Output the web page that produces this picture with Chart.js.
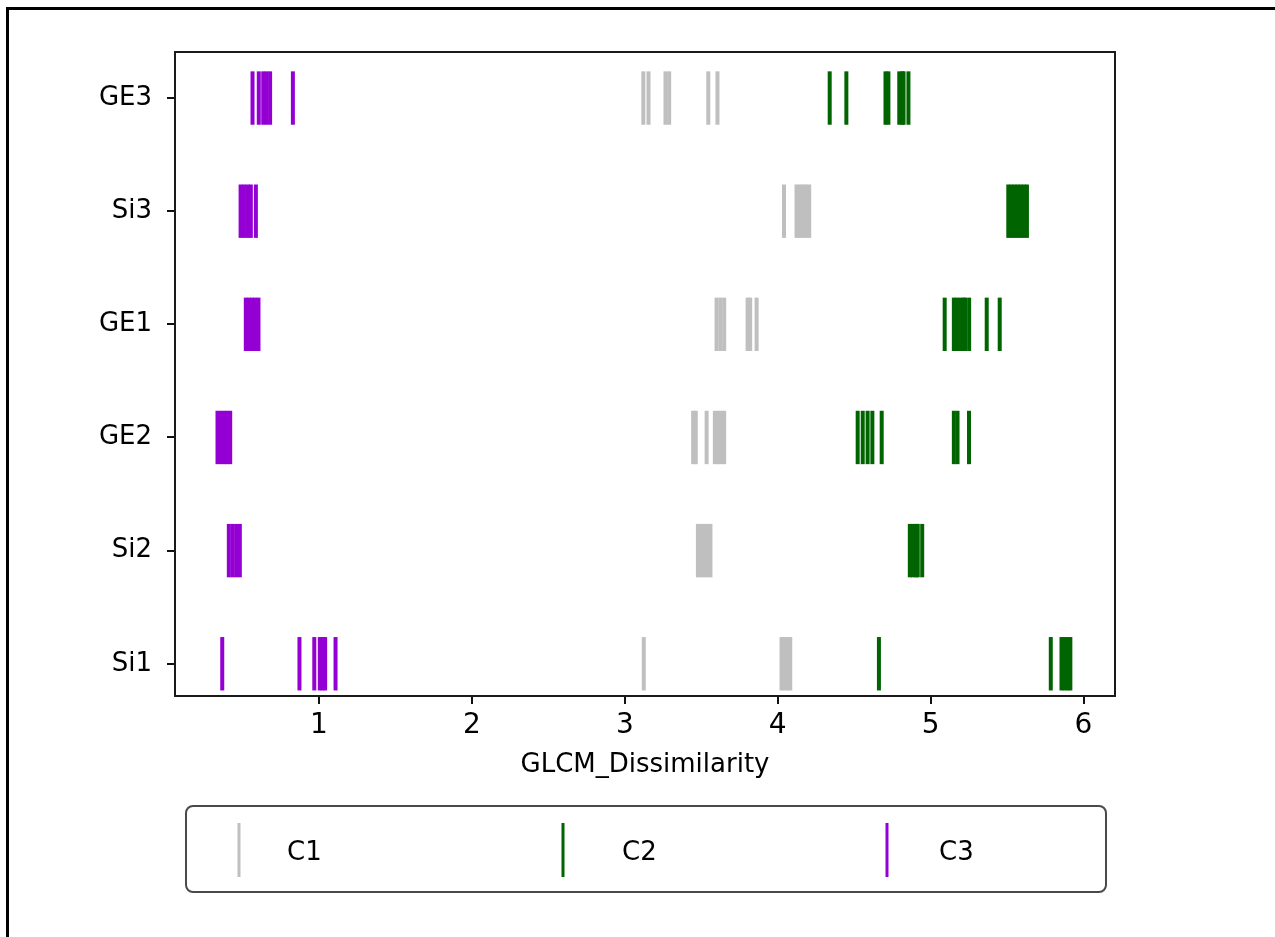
<!DOCTYPE html>
<html><head><meta charset="utf-8">
<script src="https://cdn.jsdelivr.net/npm/chart.js@4.4.1/dist/chart.umd.min.js"></script>
<style>
html,body{margin:0;padding:0;background:#fff;overflow:hidden;}
#wrap{position:relative;width:1275px;height:937px;}
#frame{position:absolute;left:6px;top:7px;width:1300px;height:1000px;border-left:3px solid #000;border-top:3px solid #000;pointer-events:none;}
canvas{position:absolute;left:0;top:0;}
</style></head><body>
<div id="wrap"><canvas id="c" width="1275" height="937"></canvas><div id="frame"></div></div>
<script>
// Categories (bottom to top), classes and tick labels
const categories = ['Si1', 'Si2', 'GE2', 'GE1', 'Si3', 'GE3'];
const classNames = ['C1', 'C2', 'C3'];
const classColors = ['#bfbfbf', '#006400', '#9400d3'];
const xTicks = [1, 2, 3, 4, 5, 6];
const xTitle = 'GLCM_Dissimilarity';

// C1 events (GLCM_Dissimilarity values)
const C1_Si1 = [3.124, 4.025, 4.045, 4.065, 4.082];
const C1_Si2 = [3.478, 3.498, 3.519, 3.54, 3.56];
const C1_GE2 = [3.447, 3.464, 3.535, 3.589, 3.61, 3.63, 3.65];
const C1_GE1 = [3.6, 3.625, 3.65, 3.803, 3.82, 3.862];
const C1_Si3 = [4.041, 4.123, 4.144, 4.165, 4.185, 4.206];
const C1_GE3 = [3.121, 3.155, 3.266, 3.29, 3.546, 3.606];

// C2 events
const C2_Si1 = [4.662, 5.786, 5.856, 5.876, 5.896, 5.914];
const C2_Si2 = [4.864, 4.884, 4.904, 4.916, 4.945];
const C2_GE2 = [4.523, 4.556, 4.588, 4.619, 4.68, 5.152, 5.176, 5.251];
const C2_GE1 = [5.092, 5.152, 5.172, 5.194, 5.215, 5.226, 5.252, 5.367, 5.452];
const C2_Si3 = [5.508, 5.528, 5.549, 5.569, 5.589, 5.61, 5.63];
const C2_GE3 = [4.34, 4.449, 4.705, 4.724, 4.795, 4.815, 4.823, 4.855];

// C3 events
const C3_Si1 = [0.367, 0.872, 0.969, 1.005, 1.023, 1.04, 1.108];
const C3_Si2 = [0.41, 0.434, 0.458, 0.482];
const C3_GE2 = [0.336, 0.357, 0.378, 0.398, 0.419];
const C3_GE1 = [0.521, 0.542, 0.563, 0.583, 0.604];
const C3_Si3 = [0.487, 0.509, 0.532, 0.554, 0.587];
const C3_GE3 = [0.565, 0.606, 0.635, 0.657, 0.68, 0.829];

const C1 = [C1_Si1, C1_Si2, C1_GE2, C1_GE1, C1_Si3, C1_GE3];
const C2 = [C2_Si1, C2_Si2, C2_GE2, C2_GE1, C2_Si3, C2_GE3];
const C3 = [C3_Si1, C3_Si2, C3_GE2, C3_GE1, C3_Si3, C3_GE3];
const classEvents = [C1, C2, C3];

const FONT = 'DejaVu Sans';
const EVENT_HALF = 26.7;
const EVENT_WIDTH = 4;

const datasets = classNames.map((name, k) => ({
  label: name,
  data: categories.flatMap((cat, i) => classEvents[k][i].map(v => ({x: v, y: i}))),
  pointStyle: 'line',
  rotation: 90,
  pointRotation: 90,
  pointRadius: EVENT_HALF,
  pointHoverRadius: EVENT_HALF,
  borderWidth: EVENT_WIDTH,
  pointBorderWidth: EVENT_WIDTH,
  pointHoverBorderWidth: EVENT_WIDTH,
  pointBorderColor: classColors[k],
  pointBackgroundColor: classColors[k],
  borderColor: classColors[k],
  backgroundColor: classColors[k],
  showLine: false
}));

const framePlugin = {
  id: 'frame',
  afterDatasetsDraw(chart) {
    const {ctx, chartArea: a} = chart;
    ctx.save();
    ctx.strokeStyle = '#1a1a1a';
    ctx.lineWidth = 2;
    ctx.strokeRect(a.left, a.top, a.right - a.left, a.bottom - a.top);
    ctx.restore();
  }
};

const legendPlugin = {
  id: 'boxLegend',
  afterDraw(chart) {
    const ctx = chart.ctx;
    const bx = 186, by = 806, bw = 920, bh = 86, r = 7;
    ctx.save();
    ctx.beginPath();
    ctx.moveTo(bx + r, by);
    ctx.arcTo(bx + bw, by, bx + bw, by + bh, r);
    ctx.arcTo(bx + bw, by + bh, bx, by + bh, r);
    ctx.arcTo(bx, by + bh, bx, by, r);
    ctx.arcTo(bx, by, bx + bw, by, r);
    ctx.closePath();
    ctx.fillStyle = '#fff';
    ctx.fill();
    ctx.strokeStyle = '#4a4a4a';
    ctx.lineWidth = 2;
    ctx.stroke();
    const markerX = [239, 563, 887];
    const textX = [287, 622, 939];
    classNames.forEach((name, k) => {
      ctx.beginPath();
      ctx.strokeStyle = classColors[k];
      ctx.lineWidth = 3;
      ctx.moveTo(markerX[k], 823);
      ctx.lineTo(markerX[k], 877);
      ctx.stroke();
      ctx.fillStyle = '#000';
      ctx.font = '26px "' + FONT + '"';
      ctx.textAlign = 'left';
      ctx.textBaseline = 'middle';
      ctx.fillText(name, textX[k], 853);
    });
    ctx.restore();
  }
};

new Chart(document.getElementById('c'), {
  type: 'scatter',
  data: {datasets},
  options: {
    responsive: false,
    animation: false,
    events: [],
    layout: {padding: {left: 0, top: 52, right: 160, bottom: 156}},
    plugins: {legend: {display: false}, tooltip: {enabled: false}},
    scales: {
      x: {
        type: 'linear',
        min: 0.058,
        max: 6.206,
        afterBuildTicks: (axis) => { axis.ticks = xTicks.map(v => ({value: v})); },
        afterFit: (scale) => { scale.height = 85; },
        grid: {display: true, drawOnChartArea: false, drawTicks: true, tickLength: 8, color: '#111', lineWidth: 2},
        border: {display: false},
        ticks: {color: '#000', padding: 5, font: {family: FONT, size: 28}, maxRotation: 0, autoSkip: false},
        title: {display: true, text: xTitle, color: '#000', font: {family: FONT, size: 26}, padding: {top: 0, bottom: 0}}
      },
      y: {
        type: 'linear',
        min: -0.285,
        max: 5.407,
        afterBuildTicks: (axis) => { axis.ticks = categories.map((c, i) => ({value: i})); },
        afterFit: (scale) => { scale.width = 175; },
        grid: {display: true, drawOnChartArea: false, drawTicks: true, tickLength: 8, color: '#111', lineWidth: 2},
        border: {display: false},
        ticks: {color: '#000', padding: 15, font: {family: FONT, size: 26}, autoSkip: false,
          callback: (v) => categories[v]}
      }
    }
  },
  plugins: [framePlugin, legendPlugin]
});
</script>
</body></html>
